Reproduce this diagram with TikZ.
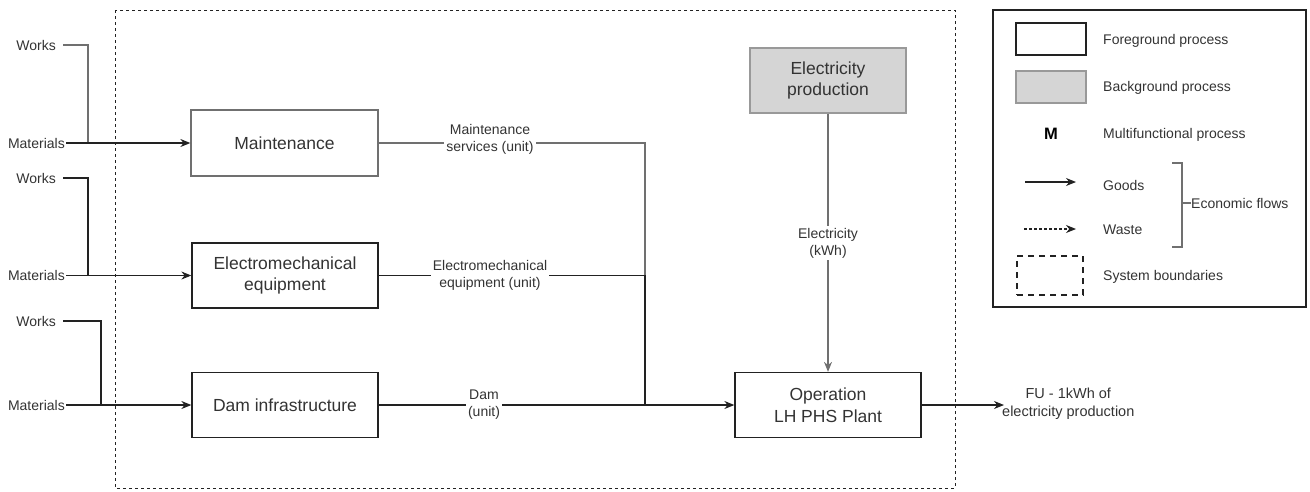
\documentclass[tikz,border=0pt]{standalone}
\usepackage{fontspec}
\setmainfont{Liberation Sans}
\usetikzlibrary{arrows.meta}
\definecolor{txt}{HTML}{333333}
\definecolor{ln}{HTML}{222222}
\definecolor{gln}{HTML}{707070}
\definecolor{bgfill}{HTML}{D5D5D5}
\definecolor{bgline}{HTML}{999999}
\tikzset{
  every node/.style={text=txt},
  proc/.style={draw=ln, line width=1.3pt, minimum width=186pt, minimum height=65pt, align=center, font=\fontsize{17.5}{21.5}\selectfont, inner sep=0pt},
  small/.style={font=\fontsize{14}{17}\selectfont, align=center, inner sep=1pt},
  lbl/.style={small, fill=white, inner sep=2pt},
  flow/.style={draw=ln, line width=1.1pt, -{Stealth[length=10pt,width=8pt]}},
  ln/.style={draw=ln, line width=1.1pt},
  gl/.style={draw=gln, line width=1.1pt},
  legtxt/.style={small, anchor=west, inner sep=0pt},
}
\begin{document}
\begin{tikzpicture}[x=1pt,y=-1pt]
\useasboundingbox (0,0) rectangle (1310,491);
% system boundary
\draw[ln, line width=1pt, dash pattern=on 3pt off 3pt] (115,10) rectangle (955,488);

% process boxes
\node[proc, draw=gln, minimum width=187pt, minimum height=66pt] (maint) at (284.5,143) {Maintenance};
\node[proc] (elec) at (285,275.5) {Electromechanical\\equipment};
\node[proc] (dam) at (285,405) {Dam infrastructure};
\node[proc] (oper) at (828,405) {Operation\\LH PHS Plant};
\node[proc, draw=bgline, fill=bgfill, minimum width=156pt] (eprod) at (828,80.5) {Electricity\\production};

% inputs
\node[small, anchor=east, inner xsep=7pt] (w1) at (63,45) {Works};
\node[small, anchor=east] (m1) at (66,143) {Materials};
\node[small, anchor=east, inner xsep=7pt] (w2) at (63,178) {Works};
\node[small, anchor=east] (m2) at (66,275.5) {Materials};
\node[small, anchor=east, inner xsep=7pt] (w3) at (63,321) {Works};
\node[small, anchor=east] (m3) at (66,405) {Materials};
\coordinate (j1) at (88,143);
\coordinate (j2) at (88,275.5);
\coordinate (j3) at (101,405);

\draw[gl] (w1.east) -| (j1);
\draw[flow] (m1.east) -- (maint.west);
\draw[ln] (w2.east) -| (j2);
\draw[flow] (m2.east) -- (elec.west);
\draw[ln] (w3.east) -| (j3);
\draw[flow] (m3.east) -- (dam.west);

% outputs
\coordinate (jm) at (645,143);
\coordinate (je) at (645,275.5);
\coordinate (jd) at (645,405);
\draw[gl] (maint.east) -- (jm) -- (je);
\draw[ln] (elec.east) -- (je) -- (jd);
\draw[ln] (dam.east) -- (jd);
\draw[flow] (jd) -- (oper.west);
\node[lbl] (lm) at (490,139.5) {Maintenance\\services (unit)};
\node[lbl] (le) at (490,275.5) {Electromechanical\\equipment (unit)};
\node[lbl] (ld) at (484,405) {Dam\\(unit)};

% electricity
\draw[flow, draw=gln] (eprod.south) -- (oper.north);
\node[lbl] (lel) at (828,243) {Electricity\\(kWh)};

% functional unit
\node[small, anchor=west, font=\fontsize{14.5}{18}\selectfont, inner sep=0pt] (fu) at (1002,404) {FU - 1kWh of\\electricity production};
\coordinate (fuin) at (1004,405);
\draw[flow] (oper.east) -- (fuin);

% legend
\draw[draw=ln, line width=2.6pt] (993,10) rectangle (1306,307);
\node[draw=ln, line width=1.2pt, minimum width=70pt, minimum height=32pt] (lfg) at (1051,39) {};
\node[legtxt] (tfg) at (1103,41) {Foreground process};
\node[draw=bgline, fill=bgfill, line width=1.2pt, minimum width=70pt, minimum height=32pt] (lbg) at (1051,87) {};
\node[legtxt] (tbg) at (1103,88) {Background process};
\node[font=\fontsize{16.5}{18}\bfseries\selectfont, text=black, inner sep=0pt] (lM) at (1051,134) {M};
\node[legtxt] (tM) at (1103,135) {Multifunctional process};
\coordinate (ga) at (1025,182);
\coordinate (gb) at (1076,182);
\draw[flow, line width=1.1pt] (ga) -- (gb);
\node[legtxt] (tg) at (1103,185) {Goods};
\coordinate (wa) at (1024,229);
\coordinate (wb) at (1076,229);
\draw[flow, line width=1.1pt, dash pattern=on 3pt off 2pt] (wa) -- (wb);
\node[legtxt] (tw) at (1103,230) {Waste};
\coordinate (b1) at (1172,163);
\coordinate (b2) at (1182,163);
\coordinate (b3) at (1182,247);
\coordinate (b4) at (1172,247);
\draw[gl, line width=1.1pt] (b1) -- (b2) -- (b3) -- (b4);
\node[legtxt] (tef) at (1191,203) {Economic flows};
\draw[gl, line width=1.1pt] (1182,203) -- (tef.west);
\node[draw=ln, line width=2.4pt, dash pattern=on 6pt off 5pt, minimum width=66pt, minimum height=39pt] (lsb) at (1050,275.5) {};
\node[legtxt] (tsb) at (1103,277) {System boundaries};
\end{tikzpicture}
\end{document}
